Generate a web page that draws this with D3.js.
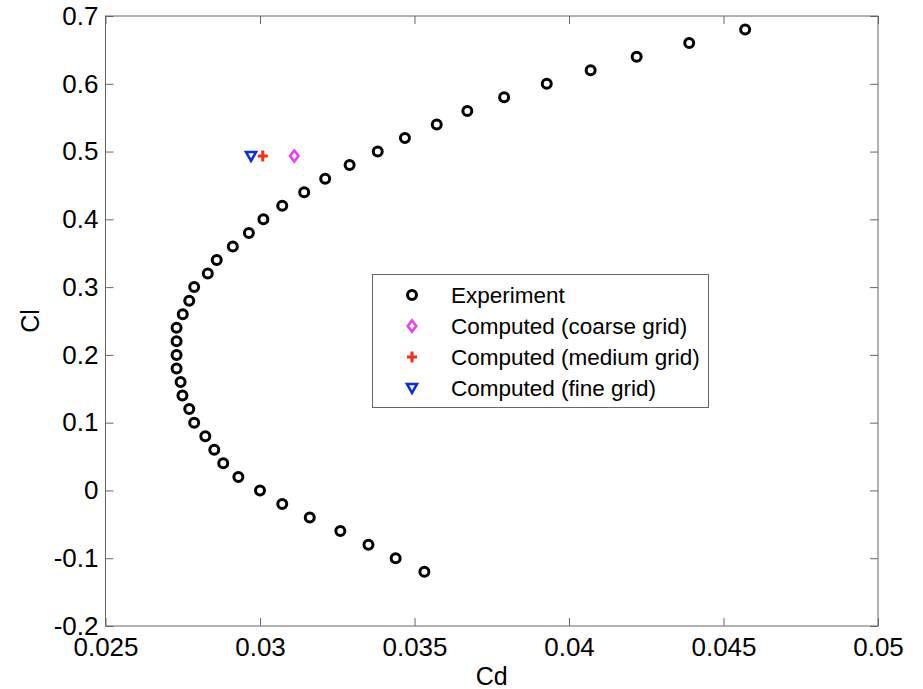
<!DOCTYPE html>
<html>
<head>
<meta charset="utf-8">
<script src="https://cdn.jsdelivr.net/npm/d3@7"></script>
<style>
  body { margin: 0; background: #fff; }
  text { font-family: "Liberation Sans", Arial, Helvetica, sans-serif; fill: #000; }
</style>
</head>
<body>
<div id="chart"></div>
<script>
// experimental drag polar
var clExp = [0.68, 0.66, 0.64, 0.62, 0.60, 0.58, 0.56, 0.54, 0.52, 0.50, 0.48, 0.46, 0.44, 0.42,
   0.40, 0.38, 0.36, 0.34, 0.32, 0.30, 0.28, 0.26, 0.24, 0.22, 0.20, 0.18, 0.16, 0.14, 0.12,
   0.10, 0.08, 0.06, 0.04, 0.02, 0.00, -0.02, -0.04, -0.06, -0.08, -0.10, -0.12];
var cdExp = [0.04570, 0.04389, 0.04219, 0.04070, 0.03928, 0.03790, 0.03671, 0.03572, 0.03469,
   0.03381, 0.03290, 0.03211, 0.03143, 0.03072, 0.03011, 0.02964, 0.02912, 0.02860, 0.02831,
   0.02787, 0.02771, 0.02750, 0.02730, 0.02730, 0.02730, 0.02730, 0.02743, 0.02749, 0.02771,
   0.02787, 0.02823, 0.02852, 0.02881, 0.02930, 0.03000, 0.03072, 0.03161, 0.03260, 0.03351,
   0.03439, 0.03532];

// computed points
var gridNames = ["coarse", "medium", "fine"];
var cdComp = [0.03111, 0.03009, 0.02971];
var clComp = [0.4934, 0.4934, 0.4934];

var xTicks = [0.025, 0.03, 0.035, 0.04, 0.045, 0.05];
var xTickLabels = ["0.025", "0.03", "0.035", "0.04", "0.045", "0.05"];
var yTicks = [-0.2, -0.1, 0, 0.1, 0.2, 0.3, 0.4, 0.5, 0.6, 0.7];
var yTickLabels = ["-0.2", "-0.1", "0", "0.1", "0.2", "0.3", "0.4", "0.5", "0.6", "0.7"];

var legendLabels = ["Experiment", "Computed (coarse grid)", "Computed (medium grid)", "Computed (fine grid)"];

var W = 923, H = 689;
var margin = {top: 16, right: 45, bottom: 63, left: 105.5};
var width = W - margin.left - margin.right;
var height = H - margin.top - margin.bottom;

var svg = d3.select("#chart").append("svg")
   .attr("width", W)
   .attr("height", H);

var g = svg.append("g")
   .attr("transform", "translate(" + margin.left + "," + margin.top + ")");

var x = d3.scaleLinear().domain([0.025, 0.05]).range([0, width]);
var y = d3.scaleLinear().domain([-0.2, 0.7]).range([height, 0]);

var axisColor = "#666";
var tickLen = 8;

// frame
g.append("rect")
   .attr("width", width)
   .attr("height", height)
   .attr("fill", "none")
   .attr("stroke", axisColor)
   .attr("stroke-width", 1);

function styleAxis(sel) {
   sel.select(".domain").remove();
   sel.selectAll(".tick line").attr("stroke", axisColor);
   sel.selectAll(".tick text").style("font-size", "26px").attr("fill", "#000");
}

// bottom + top
g.append("g")
   .attr("transform", "translate(0," + height + ")")
   .call(d3.axisBottom(x).tickValues(xTicks).tickSize(-tickLen)
      .tickFormat(function(d, i) { return xTickLabels[i]; }))
   .call(styleAxis)
   .selectAll(".tick text").attr("dy", "0.71em").attr("y", 12);

g.append("g")
   .call(d3.axisTop(x).tickValues(xTicks).tickSize(-tickLen).tickFormat(""))
   .call(styleAxis);

// left + right
g.append("g")
   .call(d3.axisLeft(y).tickValues(yTicks).tickSize(-tickLen)
      .tickFormat(function(d, i) { return yTickLabels[i]; }))
   .call(styleAxis)
   .selectAll(".tick text").attr("x", -7);

g.append("g")
   .attr("transform", "translate(" + width + ",0)")
   .call(d3.axisRight(y).tickValues(yTicks).tickSize(-tickLen).tickFormat(""))
   .call(styleAxis);

// axis labels
svg.append("text")
   .attr("x", margin.left + width / 2)
   .attr("y", 685)
   .attr("text-anchor", "middle")
   .style("font-size", "25px")
   .text("Cd");

svg.append("text")
   .attr("transform", "translate(39," + (margin.top + height / 2) + ") rotate(-90)")
   .attr("text-anchor", "middle")
   .style("font-size", "25px")
   .text("Cl");

// markers
var colors = {coarse: "#f03cf0", medium: "#ff2a10", fine: "#0a2ee6"};

function drawCircle(sel) {
   return sel.append("circle").attr("r", 4.5)
      .attr("fill", "none").attr("stroke", "#000").attr("stroke-width", 3);
}
function drawMarker(sel, name) {
   if (name === "coarse") {
      sel.append("path").attr("d", "M0,-5.5L4.2,0L0,5.5L-4.2,0Z")
         .attr("fill", "none").attr("stroke", colors.coarse).attr("stroke-width", 2.6);
   } else if (name === "medium") {
      sel.append("path").attr("d", "M-5,0H5M0,-5.5V5.5")
         .attr("fill", "none").attr("stroke", colors.medium).attr("stroke-width", 3);
   } else {
      sel.append("path").attr("d", "M-5,-4H5L0,4.8Z")
         .attr("fill", "none").attr("stroke", colors.fine).attr("stroke-width", 2.6)
         .attr("stroke-linejoin", "miter");
   }
}

var expData = clExp.map(function(cl, i) { return {cd: cdExp[i], cl: cl}; });

g.selectAll(".exp")
   .data(expData)
   .enter().append("g")
   .attr("class", "exp")
   .attr("transform", function(d) { return "translate(" + x(d.cd) + "," + y(d.cl) + ")"; })
   .each(function() { drawCircle(d3.select(this)); });

var compData = gridNames.map(function(n, i) { return {name: n, cd: cdComp[i], cl: clComp[i]}; });

g.selectAll(".comp")
   .data(compData)
   .enter().append("g")
   .attr("class", "comp")
   .attr("transform", function(d) { return "translate(" + x(d.cd) + "," + y(d.cl) + ")"; })
   .each(function(d) { drawMarker(d3.select(this), d.name); });

// legend
var legend = svg.append("g").attr("transform", "translate(372,274)");
legend.append("rect")
   .attr("x", 0.5).attr("y", 0.5)
   .attr("width", 336).attr("height", 133)
   .attr("fill", "#fff")
   .attr("stroke", axisColor)
   .attr("stroke-width", 1);

var rows = legend.selectAll(".row")
   .data(legendLabels)
   .enter().append("g")
   .attr("class", "row")
   .attr("transform", function(d, i) { return "translate(0," + (21 + i * 31) + ")"; });

rows.each(function(d, i) {
   var m = d3.select(this).append("g").attr("transform", "translate(40,0)");
   if (i === 0) drawCircle(m);
   else drawMarker(m, gridNames[i - 1]);
});

rows.append("text")
   .attr("x", 79)
   .attr("dy", "0.36em")
   .style("font-size", "22.5px")
   .text(function(d) { return d; });
</script>
</body>
</html>
